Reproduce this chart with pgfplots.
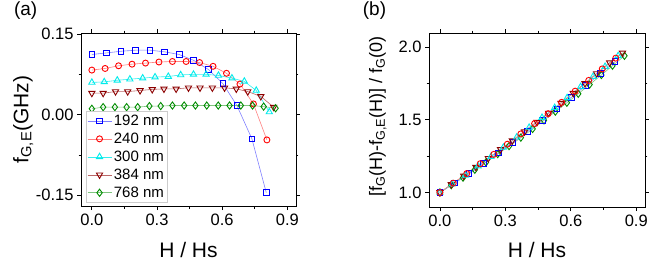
\documentclass[border=0pt]{standalone}
\usepackage{fontspec}
\setmainfont{Liberation Sans}
\usepackage{pgfplots}
\pgfplotsset{compat=1.18}
\definecolor{cb}{RGB}{0,0,255}
\definecolor{cr}{RGB}{255,0,0}
\definecolor{cc}{RGB}{0,235,235}
\definecolor{cbr}{RGB}{140,0,0}
\definecolor{cg}{RGB}{0,140,0}
\pgfplotsset{
  base/.style={scale only axis, anchor=south west, tick align=outside,
    major tick length=4pt, minor tick length=2.5pt,
    axis line style={line width=0.8pt}, tick style={line width=0.8pt, black},
    tick label style={font=\fontsize{16.5}{16.5}\selectfont},
    label style={font=\fontsize{21}{21}\selectfont},
    /pgf/number format/assume math mode=true,
    xmin=-0.05, xmax=0.94, xtick={0,0.3,0.6,0.9}, xticklabels={0.0,0.3,0.6,0.9},
    minor x tick num=1, minor y tick num=1,
    xlabel={H / Hs}},
  sB/.style={draw=cb!50, line width=0.6pt, mark=square, mark size=2.8pt, mark options={draw=cb, fill=white, line width=0.9pt, solid}},
  sR/.style={draw=cr!50, line width=0.6pt, mark=o, mark size=3pt, mark options={draw=cr, fill=white, line width=0.9pt, solid}},
  sC/.style={draw=cc!80, line width=0.6pt, mark=triangle, mark size=3.6pt, mark options={draw=cc, fill=white, line width=0.9pt, solid}},
  sBr/.style={draw=cbr!60, line width=0.6pt, mark=triangle, mark size=3.6pt, mark options={draw=cbr, fill=white, line width=0.9pt, solid, rotate=180}},
  sG/.style={draw=cg!50, line width=0.6pt, mark=diamond, mark size=3.6pt, mark options={draw=cg, fill=white, line width=0.9pt, solid}},
}
\begin{document}
\begin{tikzpicture}
\path[use as bounding box] (0,0) rectangle (654pt,266pt);
\node[font=\fontsize{19}{19}\selectfont, anchor=base] at (25.7pt,250.5pt) {(a)};
\node[font=\fontsize{19}{19}\selectfont, anchor=base] at (374.5pt,250.5pt) {(b)};
\begin{axis}[base, at={(81pt,60pt)}, width=215pt, height=173pt,
  ymin=-0.17, ymax=0.152, ytick={-0.15,0,0.15}, yticklabels={-0.15,0.00,0.15},
  ylabel={f\textsubscript{G,E}(GHz)},
  ylabel style={at={([xshift=-52.7pt]rel axis cs:0,0.5)}, anchor=base},
  xlabel style={at={([yshift=-51pt]rel axis cs:0.5,0)}, anchor=base},
  legend cell align=left,
  legend image code/.code={\draw[mark repeat=2,mark phase=2] plot coordinates {(0pt,0pt) (12pt,0pt) (24pt,0pt)};},
  legend style={at={(rel axis cs:0.023,0.017)}, anchor=south west, draw=gray!40, line width=0.6pt,
    font=\fontsize{15}{15}\selectfont, nodes={inner ysep=3pt, inner xsep=2pt}, inner xsep=1pt, inner ysep=1pt},
]
\addplot[sB] coordinates {(0,0.112)(0.068,0.115)(0.134,0.118)(0.2,0.120)(0.268,0.120)(0.334,0.117)(0.402,0.112)(0.469,0.101)(0.537,0.084)(0.603,0.058)(0.668,0.017)(0.737,-0.045)(0.803,-0.145)};
\addplot[sR] coordinates {(0,0.083)(0.061,0.086)(0.123,0.091)(0.185,0.094)(0.247,0.096)(0.309,0.098)(0.371,0.099)(0.434,0.099)(0.496,0.097)(0.558,0.090)(0.620,0.077)(0.682,0.057)(0.744,0.020)(0.806,-0.047)};
\addplot[sC] coordinates {(0,0.060)(0.057,0.061)(0.117,0.064)(0.175,0.066)(0.234,0.068)(0.291,0.070)(0.352,0.071)(0.409,0.074)(0.468,0.075)(0.526,0.075)(0.583,0.073)(0.645,0.068)(0.702,0.062)(0.757,0.045)(0.817,0.005)};
\addplot[sBr] coordinates {(0,0.040)(0.052,0.040)(0.109,0.043)(0.165,0.043)(0.222,0.045)(0.278,0.047)(0.332,0.048)(0.388,0.048)(0.445,0.050)(0.498,0.050)(0.555,0.050)(0.611,0.050)(0.665,0.048)(0.718,0.043)(0.778,0.034)(0.837,0.014)};
\addplot[sG] coordinates {(0,0.011)(0.052,0.014)(0.106,0.014)(0.16,0.014)(0.211,0.014)(0.265,0.016)(0.317,0.016)(0.371,0.017)(0.425,0.017)(0.477,0.017)(0.529,0.017)(0.582,0.017)(0.634,0.017)(0.686,0.017)(0.74,0.017)(0.791,0.015)(0.846,0.012)};
\legend{192 nm,240 nm,300 nm,384 nm,768 nm}
\end{axis}
\begin{axis}[base, at={(429pt,59pt)}, width=216pt, height=174pt,
  ymin=0.9, ymax=2.097, ytick={1,1.5,2}, yticklabels={1.0,1.5,2.0},
  ylabel={[f\textsubscript{G}(H)-f\textsubscript{G,E}(H)] / f\textsubscript{G}(0)},
  ylabel style={at={([xshift=-47pt,yshift=3.5pt]rel axis cs:0,0.5)}, anchor=base, font=\fontsize{18}{18}\selectfont},
  xlabel style={at={([yshift=-50pt]rel axis cs:0.5,0)}, anchor=base},
]
\addplot[sG] coordinates {(0,1.000)(0.052,1.050)(0.106,1.102)(0.16,1.156)(0.211,1.207)(0.265,1.264)(0.317,1.319)(0.371,1.377)(0.425,1.437)(0.477,1.496)(0.529,1.556)(0.582,1.617)(0.634,1.679)(0.686,1.742)(0.74,1.808)(0.791,1.872)(0.846,1.940)};
\addplot[sB] coordinates {(0,1.000)(0.068,1.066)(0.134,1.132)(0.2,1.200)(0.268,1.272)(0.334,1.344)(0.402,1.420)(0.469,1.496)(0.537,1.575)(0.603,1.655)(0.668,1.735)(0.737,1.820)(0.803,1.900)};
\addplot[sBr] coordinates {(0,1.000)(0.052,1.055)(0.109,1.114)(0.165,1.174)(0.222,1.235)(0.278,1.296)(0.332,1.356)(0.388,1.418)(0.445,1.484)(0.498,1.546)(0.555,1.614)(0.611,1.683)(0.665,1.750)(0.718,1.818)(0.778,1.893)(0.837,1.960)};
\addplot[sC] coordinates {(0,1.000)(0.057,1.057)(0.117,1.118)(0.175,1.182)(0.234,1.246)(0.291,1.310)(0.352,1.380)(0.409,1.447)(0.468,1.515)(0.526,1.583)(0.583,1.651)(0.645,1.727)(0.702,1.797)(0.757,1.866)(0.817,1.940)};
\addplot[sR] coordinates {(0,1.000)(0.061,1.064)(0.123,1.130)(0.185,1.198)(0.247,1.262)(0.309,1.332)(0.371,1.403)(0.434,1.474)(0.496,1.542)(0.558,1.620)(0.620,1.697)(0.682,1.771)(0.744,1.850)(0.806,1.924)};
\end{axis}
\end{tikzpicture}
\end{document}
